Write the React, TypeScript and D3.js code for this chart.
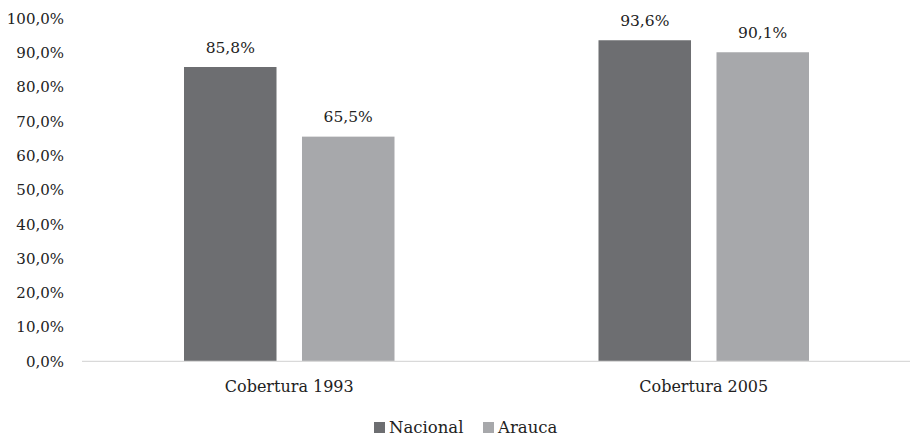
import React from "react";
import * as d3 from "d3";

const categories = ["Cobertura 1993", "Cobertura 2005"];
const seriesNames = ["Nacional", "Arauca"];
const nacional = [85.8, 93.6];
const arauca = [65.5, 90.1];
const yTicks = [0, 10, 20, 30, 40, 50, 60, 70, 80, 90, 100];

const colors = ["#6d6e71", "#a7a8ab"];
const FONT = "'DejaVu Serif', serif";
const textColor = "#222222";

const fmt = (v: number) => v.toFixed(1).replace(".", ",") + "%";

export default function App() {
  const width = 910;
  const height = 438;
  const y = d3.scaleLinear().domain([0, 100]).range([361.3, 18.3]);
  const x0 = d3.scaleBand<string>().domain(categories).range([82, 911]).paddingInner(0).paddingOuter(0);
  const step = x0.bandwidth();
  const x1 = d3
    .scaleBand<string>()
    .domain(seriesNames)
    .range([102, step - 102])
    .paddingInner(0.216)
    .paddingOuter(0);
  const values = [nacional, arauca];

  return (
    <svg width={width} height={height} style={{ position: "absolute", left: 0, top: 0 }}>
      <rect x={0} y={0} width={width} height={height} fill="#fff" />
      {yTicks.map((t) => (
        <text
          key={t}
          x={64}
          y={y(t)}
          dy="0.36em"
          textAnchor="end"
          fontFamily={FONT}
          fontSize={15}
          fill={textColor}
        >
          {fmt(t)}
        </text>
      ))}
      {categories.map((c, ci) => (
        <g key={c} transform={`translate(${x0(c)},0)`}>
          {seriesNames.map((s, si) => {
            const v = values[si][ci];
            return (
              <g key={s}>
                <rect
                  x={x1(s)}
                  y={y(v)}
                  width={x1.bandwidth()}
                  height={y(0) - y(v)}
                  fill={colors[si]}
                />
                <text
                  x={(x1(s) as number) + x1.bandwidth() / 2}
                  y={y(v) - 14.5}
                  textAnchor="middle"
                  fontFamily={FONT}
                  fontSize={15.5}
                  fill={textColor}
                >
                  {fmt(v)}
                </text>
              </g>
            );
          })}
          <text
            x={step / 2}
            y={391.5}
            textAnchor="middle"
            fontFamily={FONT}
            fontSize={16}
            fill={textColor}
          >
            {c}
          </text>
        </g>
      ))}
      <line x1={82} x2={910} y1={y(0)} y2={y(0)} stroke="#d9d9d9" strokeWidth={1.3} />
      {seriesNames.map((s, i) => {
        const lx = [374, 483][i];
        return (
          <g key={s}>
            <rect x={lx} y={422} width={11} height={11} fill={colors[i]} />
            <text x={lx + 15} y={433} fontFamily={FONT} fontSize={16.5} fill={textColor}>
              {s}
            </text>
          </g>
        );
      })}
    </svg>
  );
}
